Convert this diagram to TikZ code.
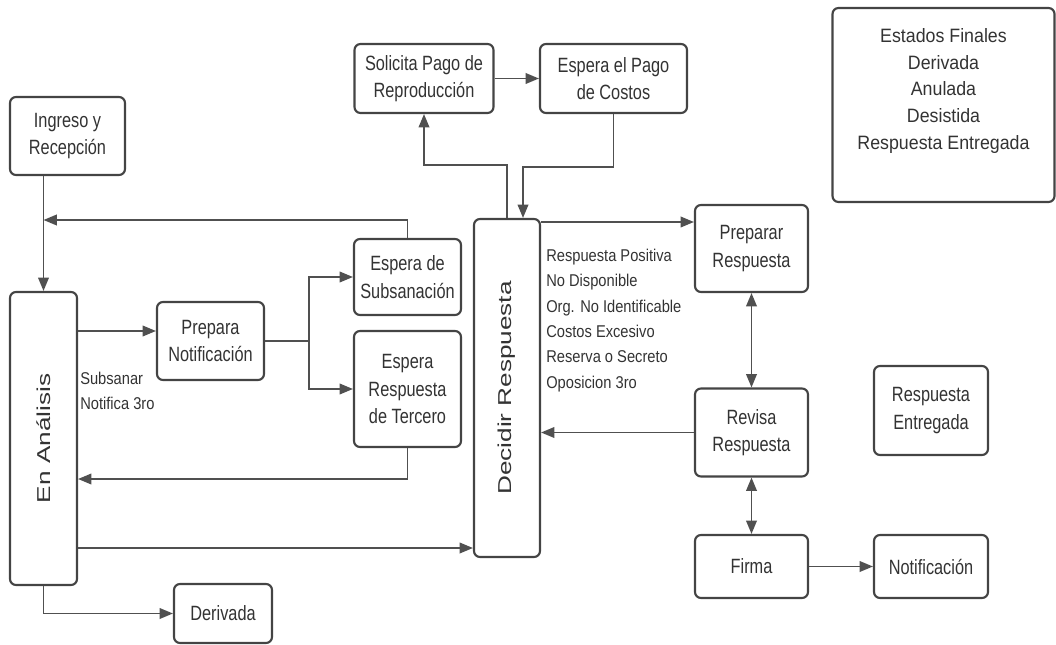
\documentclass[tikz,border=0pt]{standalone}
\usepackage{fontspec}
\setmainfont{Liberation Sans}[FakeStretch=0.79]
\newfontfamily\estfont{Liberation Sans}[FakeStretch=0.92]
\newfontfamily\labfont{Liberation Sans}[FakeStretch=0.86]
\newfontfamily\rotfont{Liberation Sans}[FakeStretch=1.4]
\usetikzlibrary{arrows.meta,calc}
\definecolor{bordercol}{HTML}{444444}
\definecolor{linecol}{HTML}{505050}
\definecolor{textcol}{HTML}{333333}
\tikzset{
  box/.style={draw=bordercol, line width=1.6pt, rounded corners=4.5pt, fill=white,
    align=center, inner sep=0pt, text=textcol, font={\fontsize{15.5}{20.5}\selectfont}},
  bx/.style 2 args={minimum width=#1*0.75pt, minimum height=#2*0.75pt},
  arr/.style={draw=linecol, line width=1.2pt, -{Triangle[length=10pt,width=8pt]}},
  darr/.style={draw=linecol, line width=1.2pt, {Triangle[length=10pt,width=8pt]}-{Triangle[length=10pt,width=8pt]}},
  lab/.style={align=left, inner sep=0pt, text=textcol, font={\labfont\fontsize{12.8}{19}\selectfont}},
  rottext/.style={font={\rotfont\fontsize{14}{16}\selectfont}}
}
\begin{document}
\begin{tikzpicture}[x=0.75pt,y=-0.75pt]
\useasboundingbox (0,0) rectangle (1056,645);
% nodes
\node[box,bx={115}{78}] (ing) at (67.5,136) {Ingreso y\\Recepción};
\node[box,bx={67}{293},rottext] (ana) at (43.5,438.5) {\rotatebox{90}{En Análisis}};
\node[box,bx={107}{78}] (prep) at (210.5,341) {Prepara\\Notificación};
\node[box,bx={107}{76}] (subs) at (407.5,277) {Espera de\\Subsanación};
\node[box,bx={107}{116}] (terc) at (407.5,389) {Espera\\Respuesta\\de Tercero};
\node[box,bx={98}{59}] (der) at (223,613.5) {Derivada};
\node[box,bx={66}{338},rottext] (dec) at (507,388) {\rotatebox{90}{Decidir Respuesta}};
\node[box,bx={139}{69}] (sol) at (424,78.5) {Solicita Pago de\\Reproducción};
\node[box,bx={147}{69}] (esp) at (613.5,78.5) {Espera el Pago\\de Costos};
\node[box,bx={113}{87}] (prr) at (751.5,248.5) {Preparar\\Respuesta};
\node[box,bx={113}{88}] (rev) at (751.5,432.5) {Revisa\\Respuesta};
\node[box,bx={113}{63}] (fir) at (751.5,566.5) {Firma};
\node[box,bx={114}{89}] (ent) at (931,410.5) {Respuesta\\Entregada};
\node[box,bx={114}{63}] (not) at (931,566.5) {Notificación};
\node[box,bx={222}{194}] (est) at (943.5,105) {};
\node[align=center, inner sep=0pt, text=textcol, font={\estfont\fontsize{14.5}{20}\selectfont}] (estt) at (943.5,91)
  {Estados Finales\\Derivada\\Anulada\\Desistida\\Respuesta Entregada};
% labels
\node[lab, anchor=west] (lsub) at (80,391) {Subsanar\\Notifica 3ro};
\node[lab, anchor=west] (lres) at (546,320.5) {Respuesta Positiva\\No Disponible\\Org. No Identificable\\Costos Excesivo\\Reserva o Secreto\\Oposicion 3ro};
% coordinates
\coordinate (jret) at (43.5,220);
% connectors
\draw[arr] (ing.south -| ana.north) -- (ana.north);
\draw[arr] (subs.north) |- (jret);
\draw[arr] (ana.east |- 0,331) -- (prep.west |- 0,331);
\draw[arr] (prep.east) -- ++(44,0) |- (subs.west);
\draw[arr] (prep.east) -- ++(44,0) |- (terc.west);
\draw[arr] (terc.south) |- (ana.east |- 0,479);
\draw[arr] (ana.east |- 0,548) -- (dec.west |- 0,548);
\draw[arr] (ana.south) |- (der.west);
\draw[arr] (dec.north) -- ++(0,-53) -| (sol.south);
\draw[arr] (esp.south) -- ++(0,53) -| ([xshift=12pt]dec.north);
\draw[arr] (sol.east) -- (esp.west);
\draw[arr] (dec.east |- 0,222) -- (prr.west |- 0,222);
\draw[darr] (prr.south) -- (rev.north);
\draw[arr] (rev.west) -- (dec.east |- rev.west);
\draw[darr] (rev.south) -- (fir.north);
\draw[arr] (fir.east) -- (not.west);
\end{tikzpicture}
\end{document}
